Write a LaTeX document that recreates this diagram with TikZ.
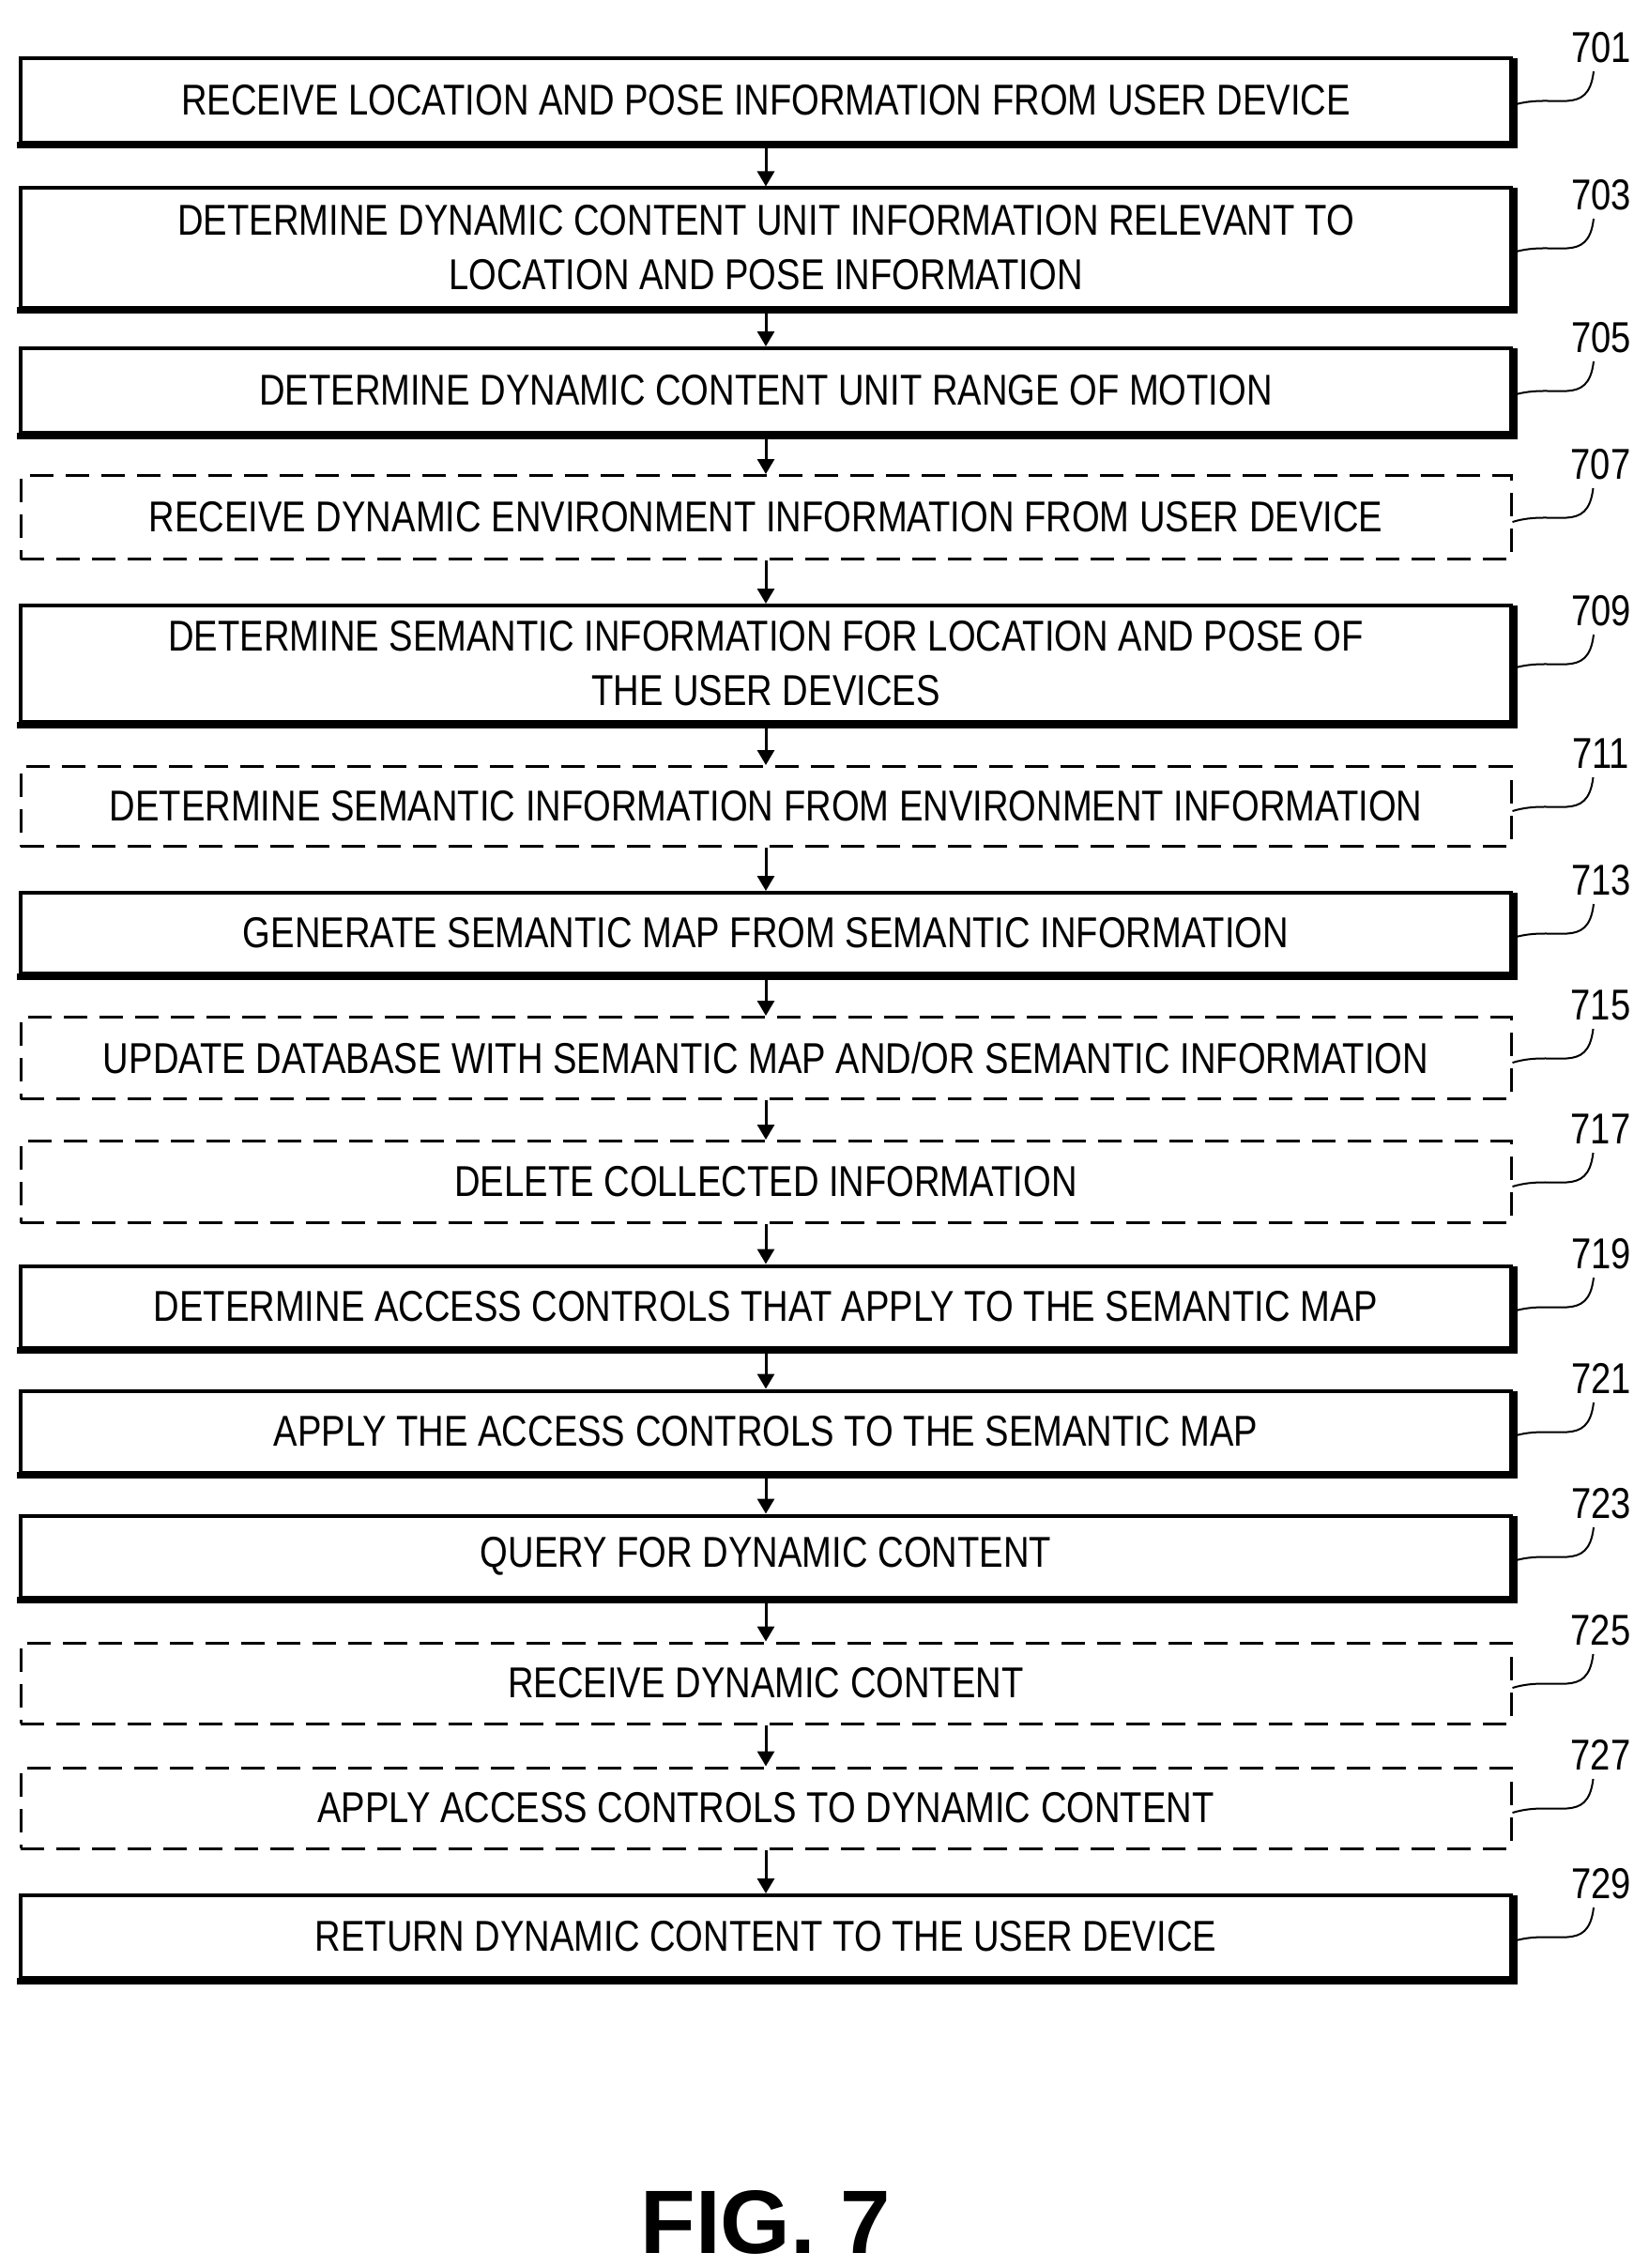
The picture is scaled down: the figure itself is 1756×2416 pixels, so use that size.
\documentclass[tikz,border=0pt]{standalone}
\usepackage{fontspec}
\setmainfont{Liberation Sans}[FakeStretch=0.83]
\newfontfamily\figfont{Liberation Sans}
\usetikzlibrary{arrows.meta,calc,positioning}
\tikzset{stepbox/.style={draw, line width=4pt, minimum width=1588pt, align=center, inner sep=0pt, font=\fontsize{46}{58}\selectfont}}
\tikzset{optbox/.style={stepbox, line width=3pt, dash pattern=on 25pt off 13pt}}
\tikzset{flow/.style={line width=3pt, -{Triangle[length=16pt,width=18pt]}}}
\tikzset{leader/.style={line width=2pt}}
\tikzset{refnum/.style={font=\fontsize{46}{50}\selectfont, anchor=south}}
\newcommand{\refmark}[2]{%
  \draw[leader] ($(#1.east)+(0,-5)$) .. controls +(45,14) and +(-6,-50) .. ++(86,36) coordinate (#1-lead);
  \node[refnum] at ($(#1-lead)+(8,6)$) {#2};}

\begin{document}
\begin{tikzpicture}[x=1pt,y=1pt]
\useasboundingbox (0,0) rectangle (1756,-2416);
% Steps
\node (Receive) [stepbox, minimum height=90pt] at (816,-107) {RECEIVE LOCATION AND POSE INFORMATION FROM USER DEVICE};
\node (Relevant) [stepbox, minimum height=127pt] at (816,-264) {DETERMINE DYNAMIC CONTENT UNIT INFORMATION RELEVANT TO\\LOCATION AND POSE INFORMATION};
\node (RangeMotion) [stepbox, minimum height=90pt] at (816,-416) {DETERMINE DYNAMIC CONTENT UNIT RANGE OF MOTION};
\node (EnvInfo) [optbox, minimum height=89pt] at (816,-551) {RECEIVE DYNAMIC ENVIRONMENT INFORMATION FROM USER DEVICE};
\node (SemPose) [stepbox, minimum height=124pt] at (816,-707) {DETERMINE SEMANTIC INFORMATION FOR LOCATION AND POSE OF\\THE USER DEVICES};
\node (SemEnv) [optbox, minimum height=85pt] at (816,-859) {DETERMINE SEMANTIC INFORMATION FROM ENVIRONMENT INFORMATION};
\node (SemMap) [stepbox, minimum height=86pt] at (816,-994) {GENERATE SEMANTIC MAP FROM SEMANTIC INFORMATION};
\node (UpdateDB) [optbox, minimum height=87pt] at (816,-1127) {UPDATE DATABASE WITH SEMANTIC MAP AND/OR SEMANTIC INFORMATION};
\node (Delete) [optbox, minimum height=87pt] at (816,-1259) {DELETE COLLECTED INFORMATION};
\node (AccessCtl) [stepbox, minimum height=87pt] at (816,-1392) {DETERMINE ACCESS CONTROLS THAT APPLY TO THE SEMANTIC MAP};
\node (ApplyCtl) [stepbox, minimum height=87pt] at (816,-1525) {APPLY THE ACCESS CONTROLS TO THE SEMANTIC MAP};
\node (Query) [stepbox, minimum height=87pt] at (816,-1658) {QUERY FOR DYNAMIC CONTENT};
\node (ReceiveDC) [optbox, minimum height=86pt] at (816,-1793) {RECEIVE DYNAMIC CONTENT};
\node (ApplyDC) [optbox, minimum height=86pt] at (816,-1926) {APPLY ACCESS CONTROLS TO DYNAMIC CONTENT};
\node (ReturnDC) [stepbox, minimum height=88pt] at (816,-2063) {RETURN DYNAMIC CONTENT TO THE USER DEVICE};

% Shadow edges
\foreach \n in {Receive,Relevant,RangeMotion,SemPose,SemMap,AccessCtl,ApplyCtl,Query,ReturnDC}
  \draw[line width=7pt] ($(\n.north east)+(1,-2)$) -- ($(\n.south east)+(1,-1)$) -- ($(\n.south west)+(-2,-1)$);

% Connectors
\foreach \a/\b in {Receive/Relevant,Relevant/RangeMotion,RangeMotion/EnvInfo,EnvInfo/SemPose,SemPose/SemEnv,SemEnv/SemMap,SemMap/UpdateDB,UpdateDB/Delete,Delete/AccessCtl,AccessCtl/ApplyCtl,ApplyCtl/Query,Query/ReceiveDC,ReceiveDC/ApplyDC,ApplyDC/ReturnDC}
  \draw[flow] (\a.south) -- (\b.north);

% Reference numerals
\refmark{Receive}{701}
\refmark{Relevant}{703}
\refmark{RangeMotion}{705}
\refmark{EnvInfo}{707}
\refmark{SemPose}{709}
\refmark{SemEnv}{711}
\refmark{SemMap}{713}
\refmark{UpdateDB}{715}
\refmark{Delete}{717}
\refmark{AccessCtl}{719}
\refmark{ApplyCtl}{721}
\refmark{Query}{723}
\refmark{ReceiveDC}{725}
\refmark{ApplyDC}{727}
\refmark{ReturnDC}{729}

\node (FigLabel) [font=\figfont\bfseries\fontsize{96}{100}\selectfont] at (816,-2367) {FIG. 7};
\end{tikzpicture}
\end{document}
